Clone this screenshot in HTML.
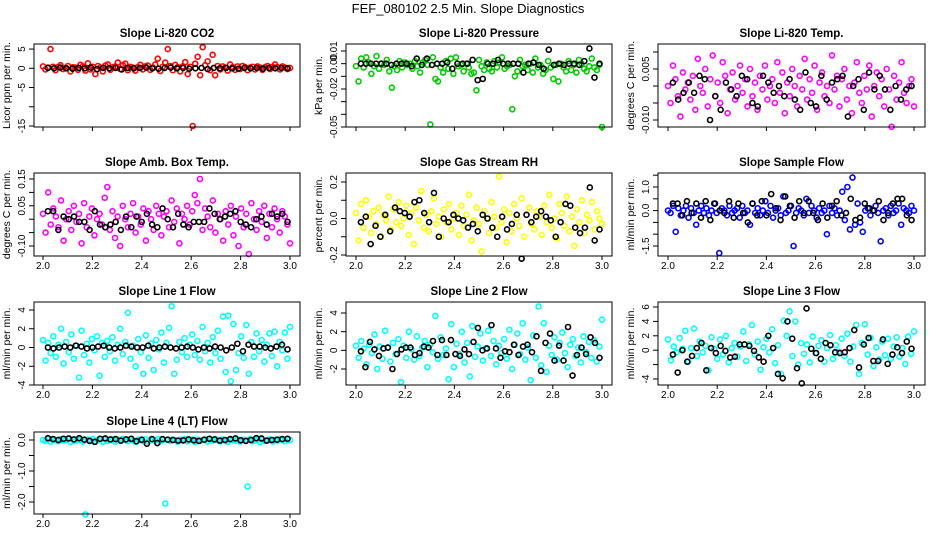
<!DOCTYPE html>
<html><head><meta charset="utf-8">
<style>
html,body{margin:0;padding:0;background:#fff;}
svg{display:block;font-family:"Liberation Sans",Arial,sans-serif;}
</style></head>
<body>
<svg id="chart" width="936" height="540" viewBox="0 0 936 540" xmlns="http://www.w3.org/2000/svg">
<rect width="936" height="540" fill="#fff"/>
<text x="468" y="13" text-anchor="middle" font-size="13">FEF_080102  2.5 Min. Slope Diagnostics</text>
</svg>
<script>
const xTicks=[2.0,2.2,2.4,2.6,2.8,3.0];
const xTickLabels=["2.0","2.2","2.4","2.6","2.8","3.0"];
const panelTitles=["Slope Li-820 CO2","Slope Li-820 Pressure","Slope Li-820 Temp.","Slope Amb. Box Temp.","Slope Gas Stream RH","Slope Sample Flow","Slope Line 1 Flow","Slope Line 2 Flow","Slope Line 3 Flow","Slope Line 4 (LT) Flow"];
const yTitles=["Licor ppm per min.","kPa per min.","degrees C per min.","degrees C per min.","percent per min.","ml/min per min.","ml/min per min.","ml/min per min.","ml/min per min.","ml/min per min."];
const seriesColors=["#ff0000","#00cc00","#ff00ff","#ff00ff","#ffff00","#0000ff","#00ffff","#00ffff","#00ffff","#00ffff"];
const yTicks=[[5,0,-5,-10,-15],[0.01,0,-0.01,-0.02,-0.03,-0.04,-0.05],[0.01,0.005,0,-0.005,-0.01],[0.15,0.1,0.05,0,-0.05,-0.1],[0.2,0.1,0,-0.1,-0.2],[1.5,1,0.5,0,-0.5,-1,-1.5],[4,2,0,-2,-4],[4,2,0,-2],[6,4,2,0,-2,-4],[0,-0.5,-1,-1.5,-2]];
const yTickLabels=[["5","0","-5","","-15"],["0.01","0.00","","-0.02","","","-0.05"],["","0.005","","","-0.010"],["0.15","","0.05","","","-0.10"],["0.2","","0.0","","-0.2"],["","1.0","","0.0","","","-1.5"],["4","2","0","-2","-4"],["4","2","0","-2"],["6","4","2","0","","-4"],["0.0","","-1.0","","-2.0"]];

const co2Color=[0.5,-0.3,0.2,5,0.4,-0.5,0.3,0.8,-0.2,0.1,0.6,-0.8,0.3,0.2,-0.4,0.9,0.5,-0.6,1.3,-0.3,0.4,-1.5,0.6,0.2,-0.8,0.7,1.0,-0.4,0.3,0.5,1.5,-0.2,0.8,1.2,-0.5,0.4,0.2,-0.6,0.3,0.9,-0.3,0.5,0.7,-0.4,0.2,1.0,2.5,-0.7,0.4,1.5,5,0.6,-0.5,0.9,0.3,-0.8,0.5,1.6,-1.5,0.4,-15,1.2,3,-1.8,5.5,0.8,1.8,-0.5,3.5,-1.8,0.6,-0.3,0.5,0.2,-0.6,1,0.3,-0.4,0.5,-0.2,0.6,0.3,-0.5,0.2,0.4,-0.3,0.5,0.2,-0.4,0.3,0.6,-0.2,0.4,1,0.3,-0.3,0.5,0.2,-0.2,0.1];
const co2Black=[0.1,0,0.2,0,-0.1,0.1,0,0.2,-0.2,0.1,0,0.1,-0.3,0.1,0,0.1,0.2,0,-0.1,0.1,0.2,0,0.1,-0.1,0,0.1,-0.2,0.1,0,0.1,0,-0.1,0.1,0,0.1,-0.1,0.1,0,0.1,0];
const presColor=[-2,-14,4,-3,5,1,-8,-2,6,-4,0,-1,3,-6,-19,-2,-5,2,-3,1,-1,0,-4,2,-2,-7,1,3,-1,-48,5,-12,-14,-3,-7,2,-4,4,-8,5,-2,-1,-6,0,-3,-8,-7,-21,3,-2,-5,1,-4,-6,2,-3,1,5,-4,-2,-1,-36,-10,-6,3,-2,-1,-5,0,-7,4,-3,-1,-8,-5,2,-3,-12,-1,-14,0,-3,-6,2,-5,-1,-7,3,0,-4,-6,-2,4,-3,-5,-1,-50];
const presBlack=[0,0,0,0,0,0,-1,0,0,0,-2,4,-1,4,-1,0,0,1,-4,0,0,0,3,-13,-12,0,0,3,0,0,0,0,-7,0,1,-1,-4,11,-1,0,-1,0,0,-1,2,12,-11,0];
const tempColor=[0,-5,6,2,-3,-9,4,-1,1,-4,3,-7,8,0,-2,5,-6,2,9,-3,1,-5,7,3,-8,-1,4,-4,0,6,-2,2,-6,5,-3,1,-7,3,-1,6,-4,0,2,-5,7,-2,4,-8,1,-3,5,0,-6,3,-1,8,-4,2,-2,6,-7,1,4,-3,0,-5,9,-1,3,-6,2,5,-4,0,-8,1,7,-2,-5,3,-1,6,-9,0,4,-3,2,-6,5,-1,-12,3,-4,1,7,-2,-5,0,2,-6];
const tempBlack=[1,-4,-2,1,-2,3,2,-10,-3,-7,1,-1,-3,3,2,-5,-6,3,1,-2,0,-3,2,-4,-7,4,-5,-6,3,-4,1,2,3,-9,0,2,-7,4,-1,3,-1,-7,0,-4,-1,0];
const ambColor=[2,-5,10,-2,4,1,-3,7,-8,0,3,-4,5,-1,2,-9,6,-3,1,4,-6,0,2,-2,8,12,-4,3,-7,1,-10,5,0,-3,2,6,-5,1,-2,4,-8,3,0,-4,5,2,-6,1,3,-3,7,-1,4,-9,2,0,5,-2,3,9,6,15,-4,4,1,-3,7,-5,2,0,-8,3,-2,5,-6,1,-10,4,-3,2,-13,6,0,-4,3,-1,5,-7,2,-3,4,0,-5,3,1,-2,-9];
const ambBlack=[3,3,-4,1,0,1,-1,-1,-4,3,-2,-3,-2,-1,-4,1,-3,1,-1,2,-2,-3,4,0,-3,2,-2,-3,-1,-1,-1,4,2,0,1,2,3,-1,-2,-3,0,1,-2,2,1,2,-1];
const rhColor=[3,-12,8,-5,10,1,-8,4,-3,6,-10,2,-1,12,-6,5,-2,9,-4,0,7,-9,3,-14,6,-1,15,-5,2,-7,4,11,-3,1,-10,5,-2,8,-6,0,3,-9,7,-4,2,13,-12,-1,6,-3,-18,4,0,-8,9,1,-5,23,-2,5,-13,3,-7,8,0,-4,11,-10,2,6,-3,-6,4,1,-9,7,-2,13,-5,0,-11,8,3,-4,12,-7,1,-15,5,-2,10,-8,2,-1,9,-6,4,0,-3];
const rhBlack=[-2,1,-14,-4,-10,2,-7,6,4,3,1,9,10,3,-2,14,-10,0,-2,2,0,-1,-5,-3,-7,2,0,-5,-10,1,-6,-3,2,-22,2,-2,1,4,1,-1,-10,-2,8,7,-5,-8,-5,17,-12,-6];
const flowColor=[0,-1,2,-9,1,-2,0,2,-3,1,-1,-6,0,2,-1,1,-2,0,3,-1,-18,1,0,-2,2,-1,0,1,-3,2,-1,0,-6,3,-1,1,-2,0,4,-1,2,-3,0,1,-2,6,-1,0,2,-15,-1,1,0,-2,5,-1,2,0,-3,1,-1,0,-10,2,-1,1,-2,0,8,-4,10,-8,14,-6,3,-5,-9,0,1,-2,0,2,-1,-13,0,1,-2,2,-1,0,3,-6,1,0,-1,2,0];
const flowBlack=[3,3,-2,4,-1,3,-3,4,-4,3,0,-1,4,-3,3,-1,-5,3,-2,4,-2,7,1,-4,6,2,-3,4,-1,4,-1,-4,3,-3,2,4,-2,-1,5,-4,-3,3,1,0,4,-4,-1,3,5,5,-2,-4];
const line1Color=[0.8,-1.4,0.5,-0.6,1.2,-1.0,0.3,2.0,-1.7,0.6,-0.5,1.4,-1.2,0.2,-3.2,1.8,-0.8,0.4,-1.6,0.9,-0.3,1.2,-3.0,0.5,-1.0,0.7,-0.4,1.1,-1.4,0.3,2.0,-0.7,0.6,3.7,-1.2,0.2,-2.0,0.9,-0.5,-2.8,1.3,-1.1,0.4,-2.4,0.8,-0.2,1.6,-1.6,0.5,2.1,4.4,-2.8,-1.3,0.6,-0.5,1.0,-1.0,0.3,1.4,-0.8,0.7,-1.3,2.2,-0.4,0.5,-1.6,1.1,-0.6,1.8,-1.2,3.3,-2.6,3.4,-3.6,2.5,-2.4,-0.6,1.2,-1.1,2.4,-2.8,0.6,-1.0,1.5,-0.4,0.8,-1.5,0.3,1.5,-0.9,1.7,-2.0,0.6,-0.3,1.6,-1.2,2.2];
const line1Black=[0,-0.1,0,0.1,0,0.2,0.1,-0.1,0,0.1,0.2,0,-0.1,0,0.2,0.1,0,0,0.2,-0.1,0,0.1,0,-0.1,0,0.1,0,-0.2,0,-0.1,0.1,0,-0.3,0,0.4,-0.4,0.3,0.1,0.1,0,-0.1,0.1,0.3,-0.2];
const line2Color=[0.5,-0.8,1.0,0.2,-1.5,0.6,-0.3,1.7,-2.0,0.4,-0.9,2.1,0.3,-1.2,0.8,-0.4,1.2,-3.4,0.5,-0.8,2.0,0.1,-1.0,1.5,-0.6,0.3,1.0,-1.8,0.6,-0.2,3.7,-0.9,1.4,-0.5,0.2,-3.1,2.8,-1.8,0.7,-0.4,2.0,-1.3,0.8,-2.8,2.6,-0.7,0.4,1.8,-1.1,0.2,2.1,-0.6,1.0,-1.5,0.5,-0.3,1.2,-0.9,2.2,-2.0,0.6,1.8,-0.4,2.9,-1.0,0.3,-3.2,1.6,-0.8,4.7,-1.6,2.9,-2.3,0.5,-0.5,1.4,-1.0,0.8,1.9,-0.3,-1.8,0.6,1.2,-0.6,0.3,-1.3,1.5,-0.2,0.9,-0.8,1.1,-1.2,0.4,3.3];
const line2Black=[-0.1,-1.8,0.9,0.1,-0.6,0.2,0.3,-2.0,-0.4,0.1,0.3,0.3,-0.5,-0.3,0.4,0.3,1.0,-0.5,1.1,-0.5,1.1,-0.4,-0.6,0.1,-0.4,0.9,2.4,0,0.2,2.7,0.2,-0.8,-0.1,-0.2,0.6,-0.5,0.4,0.6,-0.2,1.5,-2.2,0.8,1.8,-1.1,0.5,-1.1,2.5,-2.7,-0.5,0.3,-0.4,1.4,0.8,-0.8];
const line3Color=[1.5,-1.4,0.5,-0.3,1.7,0.2,2.7,-1.6,0.3,3.0,-0.8,1.2,-0.3,0.6,-2.8,1.8,0.2,-1.2,1.5,-0.6,2.0,-1.7,0.3,1.0,-0.9,0.5,2.6,-1.5,0.8,3.5,-0.6,1.2,-2.7,0.4,1.6,-0.3,2.9,-1.8,0.7,-3.3,4.1,2.0,5.4,-0.8,4.0,-2.0,1.0,-0.5,0.8,-1.7,1.9,-0.4,0.6,1.4,-1.6,0.3,2.1,-1.2,0.7,-0.2,1.6,-0.8,2.3,-1.6,0.5,3.5,-3.3,1.0,3.6,-0.6,1.7,-2.2,0.4,-1.3,1.2,-0.7,1.6,-1.2,0.5,1.8,-0.9,0.3,-1.9,1.9,-0.5,2.6];
const line3Black=[-0.6,-3.1,0,-1.6,-0.8,0.3,1.0,-2.8,0.3,-0.4,0.6,-0.1,-1.0,-0.9,0.8,0.8,0.6,-0.1,-1.0,-1.6,2.0,0.3,-3.3,-3.9,4.0,1.6,-2.5,-4.6,5.8,0.2,-0.4,-1.2,1.0,0.7,-0.3,-0.4,-0.3,0.3,2.8,-2.4,0.8,1.7,-1.5,-1.5,1.5,-1.9,-0.6,0.4,-0.4,1.2,0.2];
const line4Color=[0,-0.03,0.02,-0.05,0.01,0,-0.04,0.03,-0.02,0,0.04,-0.06,0.01,-0.03,0.02,0,-0.05,-2.4,0.01,-0.02,0.03,-0.04,0,0.02,-0.06,0.01,-0.03,0,0.02,-0.05,0.01,-0.02,0.03,0,-0.04,0.02,-0.01,-0.06,0.01,0,-0.03,0.02,-0.05,0.01,0,-0.02,0.03,-0.04,0,-2.05,0.01,-0.03,0.02,0,-0.05,0.01,-0.02,0.03,-0.04,0,0.02,-0.06,0.01,-0.03,0,0.02,-0.05,0.01,-0.02,0.03,0,-0.04,0.02,-0.01,-0.06,0.01,0,-0.03,0.02,-0.05,0.01,0,-1.5,0.03,-0.04,0,0.02,-0.06,0.01,-0.03,0,0.02,-0.05,0.01,-0.02,0.03,0,-0.04,0.02,0];
const line4Black=[0.06,0.03,0,0.04,0.05,0.02,0.06,0.01,-0.03,-0.06,0.04,0.05,0.02,0.03,-0.02,0.02,0.04,-0.04,0.01,-0.12,0.03,-0.1,0.03,0.01,0,-0.02,-0.01,0.02,-0.01,-0.03,0.01,0.04,0.02,-0.02,0,0.03,0.05,-0.01,-0.03,0,0.06,0.05,-0.02,0,0.01,0.03,0.04];

const colorSeries=[co2Color,presColor,tempColor,ambColor,rhColor,flowColor,line1Color,line2Color,line3Color,line4Color];
const blackSeries=[co2Black,presBlack,tempBlack,ambBlack,rhBlack,flowBlack,line1Black,line2Black,line3Black,line4Black];
const valueUnits=[1,0.001,0.001,0.01,0.01,0.1,1,1,1,1];

const NS="http://www.w3.org/2000/svg";
const svg=document.getElementById('chart');
const cols=[{l:34,r:300,x0:43,x1:290},{l:346,r:612,x0:356,x1:602},{l:658,r:925,x0:668,x1:914}];
const rows=[{t:44,b:127},{t:173,b:256},{t:302,b:385},{t:432,b:514}];
const yRefs=[[0,68.3,-15,126],[0.01,51,-0.05,127],[0.005,69,-0.01,120],[0.15,179,-0.1,246],[0.2,182,-0.2,255],[1,187,-1.5,246],[4,310,-4,385],[4,313,-2,369],[6,307,-4,379],[0,440,-2,502]];
function mk(tag,attrs,parent){const e=document.createElementNS(NS,tag);for(const k in attrs)e.setAttribute(k,attrs[k]);(parent||svg).appendChild(e);return e;}

for(let p=0;p<10;p++){
  const c=cols[p%3], r=rows[Math.floor(p/3)];
  const ref=yRefs[p];
  const xs=v=>c.x0+(v-2)*(c.x1-c.x0);
  const ys=v=>ref[1]+(v-ref[0])*(ref[3]-ref[1])/(ref[2]-ref[0]);
  const g=mk('g',{});
  
  
  const t=mk('text',{x:(c.l+c.r)/2,y:r.t-7,'text-anchor':'middle','font-size':'11.5','font-weight':'bold'},g);
  t.textContent=panelTitles[p];
  
  
  const yt=mk('text',{x:0,y:0,'text-anchor':'middle','font-size':'10.5',transform:`translate(${c.l-24},${(r.t+r.b)/2}) rotate(-90)`},g);
  yt.textContent=yTitles[p];
  
  
  yTicks[p].forEach((v,i)=>{
    const y=ys(v);
    const tk=mk('line',{x1:c.l-5,x2:c.l,y1:y,y2:y,stroke:'#000','stroke-width':1},g);
    
    
    if(yTickLabels[p][i]){
      const lb=mk('text',{x:0,y:0,'text-anchor':'middle','font-size':'10',transform:`translate(${c.l-9},${y}) rotate(-90)`},g);
      lb.textContent=yTickLabels[p][i];
      
      
    }
  });
  const rowIdx=Math.floor(p/3);
  xTicks.forEach((v,i)=>{
    const x=xs(v);
    const tk=mk('line',{x1:x,x2:x,y1:r.b,y2:r.b+4,stroke:'#000','stroke-width':1},g);
    
    
    if(rowIdx>0){
      const lb=mk('text',{x:x,y:r.b+13,'text-anchor':'middle','font-size':'10'},g);
      lb.textContent=xTickLabels[i];
      
      
    }
  });
  const cs=colorSeries[p], u=valueUnits[p];
  cs.forEach((v,i)=>{
    const x=xs(2+i/(cs.length-1)), y=ys(v*u);
    const pt=mk('circle',{cx:x,cy:y,r:2.5,fill:'none',stroke:seriesColors[p],'stroke-width':1.6},g);
    
    
  });
  const bs=blackSeries[p];
  bs.forEach((v,i)=>{
    const x=xs(2.02+0.97*i/(bs.length-1)), y=ys(v*u);
    const pt=mk('circle',{cx:x,cy:y,r:2.5,fill:'none',stroke:'#000','stroke-width':1.6},g);
    
    
  });
  const box=mk('rect',{x:c.l,y:r.t,width:c.r-c.l,height:r.b-r.t,fill:'none',stroke:'#000','stroke-width':1},g);
  
  
}
</script>
</body></html>
